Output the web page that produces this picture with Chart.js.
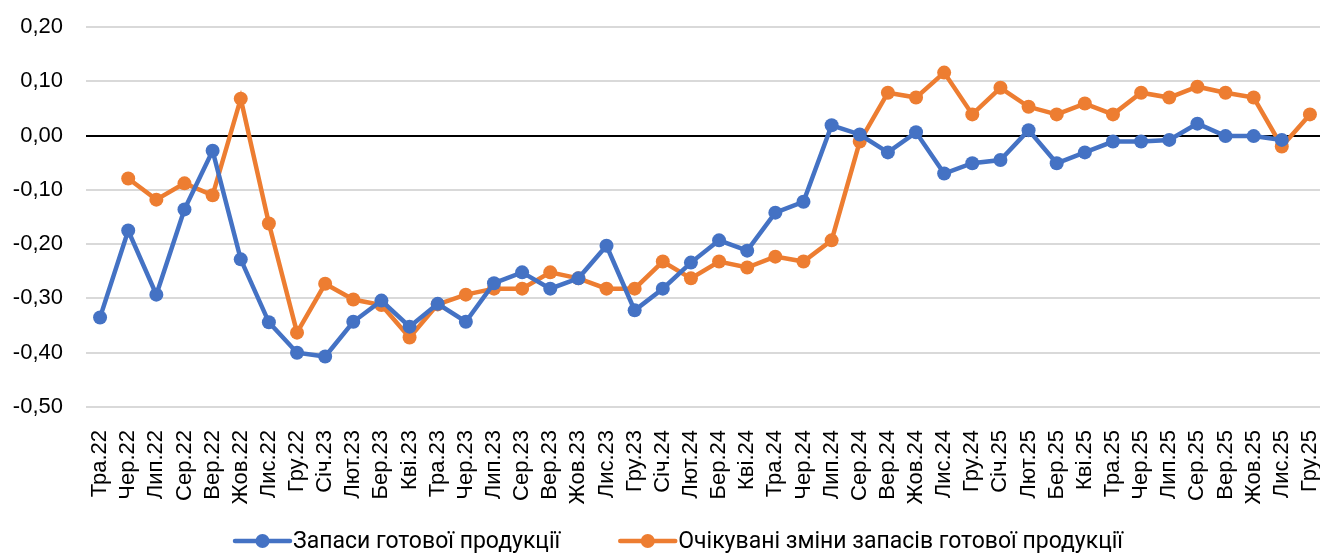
<!DOCTYPE html>
<html>
<head>
<meta charset="utf-8">
<script src="https://cdn.jsdelivr.net/npm/chart.js@4.4.1/dist/chart.umd.min.js"></script>
<style>
  html, body { margin: 0; padding: 0; background: #fff; overflow: hidden; }
  #wrap { width: 1331px; height: 556px; position: relative; }
</style>
</head>
<body>
<div id="wrap"><canvas id="stockChart"></canvas></div>
<script>
const months = [
  'Тра.22','Чер.22','Лип.22','Сер.22','Вер.22','Жов.22','Лис.22','Гру.22',
  'Січ.23','Лют.23','Бер.23','Кві.23','Тра.23','Чер.23','Лип.23','Сер.23','Вер.23','Жов.23','Лис.23','Гру.23',
  'Січ.24','Лют.24','Бер.24','Кві.24','Тра.24','Чер.24','Лип.24','Сер.24','Вер.24','Жов.24','Лис.24','Гру.24',
  'Січ.25','Лют.25','Бер.25','Кві.25','Тра.25','Чер.25','Лип.25','Сер.25','Вер.25','Жов.25','Лис.25','Гру.25'
];

// Запаси готової продукції
const stocks = [
  -0.335, -0.175, -0.293, -0.136, -0.028, -0.228, -0.344, -0.400,
  -0.407, -0.343, -0.304, -0.352, -0.310, -0.343, -0.272, -0.252, -0.282, -0.263, -0.203, -0.322,
  -0.282, -0.234, -0.193, -0.212, -0.142, -0.122, 0.019, 0.002, -0.031, 0.006, -0.070, -0.051,
  -0.045, 0.010, -0.051, -0.031, -0.011, -0.011, -0.008, 0.022, -0.001, -0.001, -0.008, null
];

// Очікувані зміни запасів готової продукції
const expected = [
  null, -0.079, -0.118, -0.088, -0.110, 0.068, -0.162, -0.363,
  -0.273, -0.302, -0.312, -0.372, -0.311, -0.293, -0.282, -0.282, -0.252, -0.263, -0.282, -0.282,
  -0.232, -0.263, -0.232, -0.243, -0.223, -0.232, -0.193, -0.011, 0.079, 0.070, 0.116, 0.039,
  0.088, 0.053, 0.039, 0.059, 0.039, 0.079, 0.070, 0.090, 0.079, 0.070, -0.020, 0.039
];

const seriesNames = ['Запаси готової продукції', 'Очікувані зміни запасів готової продукції'];
const blue = '#4472C4';
const orange = '#ED7D31';

// legend at the bottom: line with a dot, then the name
const bottomLegend = {
  id: 'bottomLegend',
  afterDraw(chart) {
    const g = chart.ctx;
    const y = 541;
    let x = 235;
    g.save();
    g.font = '23px Roboto';
    g.textBaseline = 'middle';
    chart.data.datasets.forEach((ds) => {
      g.strokeStyle = ds.borderColor;
      g.fillStyle = ds.borderColor;
      g.lineWidth = 4.5;
      g.lineCap = 'round';
      g.beginPath(); g.moveTo(x, y); g.lineTo(x + 55, y); g.stroke();
      g.beginPath(); g.arc(x + 27.5, y, 7, 0, Math.PI * 2); g.fill();
      x += 58;
      g.fillStyle = '#000';
      g.fillText(ds.label, x, y + 1);
      x += g.measureText(ds.label).width + 60;
    });
    g.restore();
  }
};

const ctx = document.getElementById('stockChart');
new Chart(ctx, {
  type: 'line',
  data: {
    labels: months,
    datasets: [{
      label: seriesNames[0],
      data: stocks,
      borderColor: blue,
      backgroundColor: blue,
      borderWidth: 4.5,
      pointRadius: 7,
      pointHoverRadius: 7,
      pointBorderWidth: 0,
      tension: 0
    }, {
      label: seriesNames[1],
      data: expected,
      borderColor: orange,
      backgroundColor: orange,
      borderWidth: 4.5,
      pointRadius: 7,
      pointHoverRadius: 7,
      pointBorderWidth: 0,
      tension: 0
    }]
  },
  plugins: [bottomLegend],
  options: {
    responsive: true,
    maintainAspectRatio: false,
    animation: false,
    layout: { padding: { top: 27, right: 0, left: 0, bottom: 0 } },
    plugins: {
      tooltip: { enabled: false },
      legend: { display: false }
    },
    scales: {
      y: {
        min: -0.5,
        max: 0.2,
        border: { display: false },
        afterFit: (axis) => { axis.width = 86; axis.paddingTop = 0; axis.paddingBottom = 0; },
        grid: {
          color: (c) => Math.abs(c.tick.value) < 1e-9 ? '#000' : '#d9d9d9',
          lineWidth: 2,
          drawTicks: false
        },
        ticks: {
          stepSize: 0.1,
          padding: 23,
          color: '#000',
          font: { size: 22, family: 'Liberation Sans' },
          callback: (v) => (Math.abs(v) < 1e-9 ? 0 : v).toFixed(2).replace('.', ',')
        }
      },
      x: {
        offset: true,
        border: { display: false },
        afterFit: (axis) => { axis.height = 149; axis.paddingLeft = 0; axis.paddingRight = 0; },
        grid: { display: false },
        ticks: {
          autoSkip: false,
          minRotation: 90,
          maxRotation: 90,
          padding: 15,
          color: '#000',
          font: { size: 22, family: 'Liberation Sans' }
        }
      }
    }
  }
});
</script>
</body>
</html>
